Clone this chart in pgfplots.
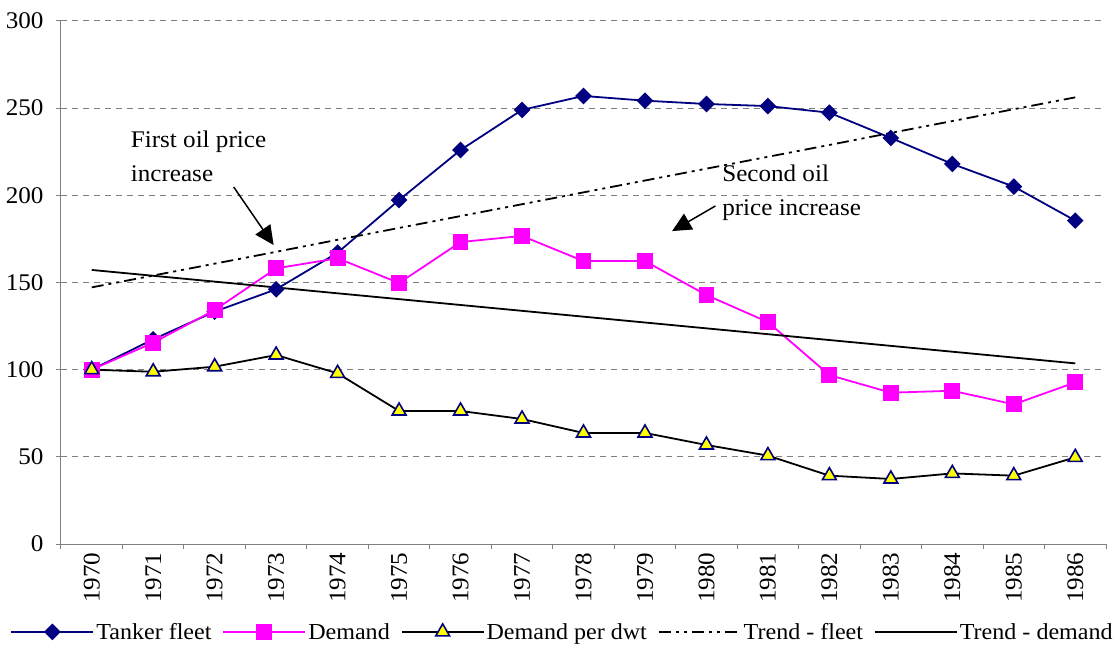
\documentclass[border=0pt]{standalone}
\usepackage{pgfplots}
\pgfplotsset{compat=1.18}
\usetikzlibrary{arrows.meta}
\usepackage{fontspec}
\setmainfont{Liberation Serif}[FakeStretch=1.05]
\definecolor{navyb}{RGB}{0,0,128}
\definecolor{magb}{RGB}{255,0,255}
\definecolor{yelb}{RGB}{255,255,0}
\definecolor{gridg}{RGB}{128,128,128}
\newcommand{\cf}{\fontsize{24}{28}\selectfont}
\newcommand{\lf}{\fontsize{23}{27}\selectfont}
\begin{document}
\begin{tikzpicture}
\begin{axis}[
  scale only axis, width=1045bp, height=523bp,
  at={(0,0)}, anchor=south west,
  xmin=-0.5, xmax=16.5, ymin=0, ymax=300,
  ytick={0,50,100,150,200,250,300},
  xtick={-0.5,0.5,1.5,2.5,3.5,4.5,5.5,6.5,7.5,8.5,9.5,10.5,11.5,12.5,13.5,14.5,15.5,16.5},
  x tick label as interval,
  xticklabels={1970,1971,1972,1973,1974,1975,1976,1977,1978,1979,1980,1981,1982,1983,1984,1985,1986},
  axis x line*=bottom, axis y line*=left,
  axis line style={gridg, line width=1bp, -},
  ymajorgrids, grid style={gridg, dash pattern=on 6bp off 5bp, line width=1bp},
  tick style={gridg, line width=1bp},
  major tick length=5bp, tick align=outside,
  /pgf/number format/assume math mode=true,
  ticklabel style={font=\cf},
  yticklabel style={xshift=-9bp},
  xticklabel style={rotate=90, anchor=east},
  clip=false,
  legend columns=5,
  legend style={at={(0.48,-0.168)}, anchor=center, draw=none, fill=none,
    font=\lf,
    /tikz/every even column/.append style={column sep=9bp}},
  legend image code/.code={\draw[mark repeat=2,mark phase=2,#1] plot coordinates {(0bp,0bp) (41bp,0bp) (82bp,0bp)};},
]
\addplot[color=navyb, line width=1.8bp, mark=square*, mark size=5bp, mark options={rotate=45, fill=navyb, solid}] coordinates {
(0,100) (1,117.4) (2,133.3) (3,146.1) (4,167.1) (5,197.3) (6,226.0) (7,249.0) (8,257.0)
(9,254.3) (10,252.4) (11,251.2) (12,247.4) (13,232.9) (14,218.0) (15,205.0) (16,185.5)};
\addlegendentry{Tanker fleet}
\addplot[color=magb, line width=1.8bp, mark=square*, mark size=7bp, mark options={fill=magb, solid}] coordinates {
(0,100) (1,115.5) (2,134.2) (3,158.1) (4,163.9) (5,149.7) (6,173.2) (7,176.7) (8,162.3)
(9,162.3) (10,142.8) (11,127.3) (12,96.9) (13,86.8) (14,87.9) (15,80.1) (16,92.7)};
\addlegendentry{Demand}
\addplot[color=black, line width=1.8bp, mark=triangle*, mark size=8bp, mark options={fill=yelb, draw=navyb, line width=1.6bp, solid}] coordinates {
(0,100) (1,98.8) (2,101.7) (3,108.4) (4,97.9) (5,76.3) (6,76.3) (7,71.7) (8,63.7)
(9,63.7) (10,56.8) (11,50.7) (12,39.2) (13,37.3) (14,40.5) (15,39.2) (16,49.7)};
\addlegendentry{Demand per dwt}
\addplot[color=black, line width=1.8bp, dash pattern=on 12bp off 5bp on 3bp off 5bp on 3bp off 5bp] coordinates {
(0,147.2) (1,154.0) (2,160.8) (3,167.6) (4,174.5) (5,181.3) (6,188.1) (7,194.9) (8,201.7)
(9,208.5) (10,215.3) (11,222.1) (12,228.9) (13,235.8) (14,242.6) (15,249.4) (16,256.2)};
\addlegendentry{Trend - fleet}
\addplot[color=black, line width=1.8bp] coordinates {
(0,157.2) (1,153.85) (2,150.5) (3,147.15) (4,143.8) (5,140.45) (6,137.1) (7,133.75) (8,130.4)
(9,127.05) (10,123.7) (11,120.35) (12,117.0) (13,113.65) (14,110.3) (15,106.95) (16,103.6)};
\addlegendentry{Trend - demand}
\draw[-{Triangle[length=19bp,width=18bp]}, line width=1.5bp] (axis cs:2.309,204.8) -- (axis cs:2.959,171.5);
\draw[-{Triangle[length=19bp,width=18bp]}, line width=1.5bp] (axis cs:10.146,193.9) -- (axis cs:9.442,179.5);
\node[anchor=base west, inner sep=0pt, font=\cf] at (axis cs:0.634,227.7) {First oil price};
\node[anchor=base west, inner sep=0pt, font=\cf] at (axis cs:0.634,207.7) {increase};
\node[anchor=base west, inner sep=0pt, font=\cf] at (axis cs:10.255,207.7) {Second oil};
\node[anchor=base west, inner sep=0pt, font=\cf] at (axis cs:10.255,188.6) {price increase};
\end{axis}
\pgfresetboundingbox
\path[use as bounding box] (-61bp,-104bp) rectangle (1057bp,544bp);
\end{tikzpicture}
\end{document}
